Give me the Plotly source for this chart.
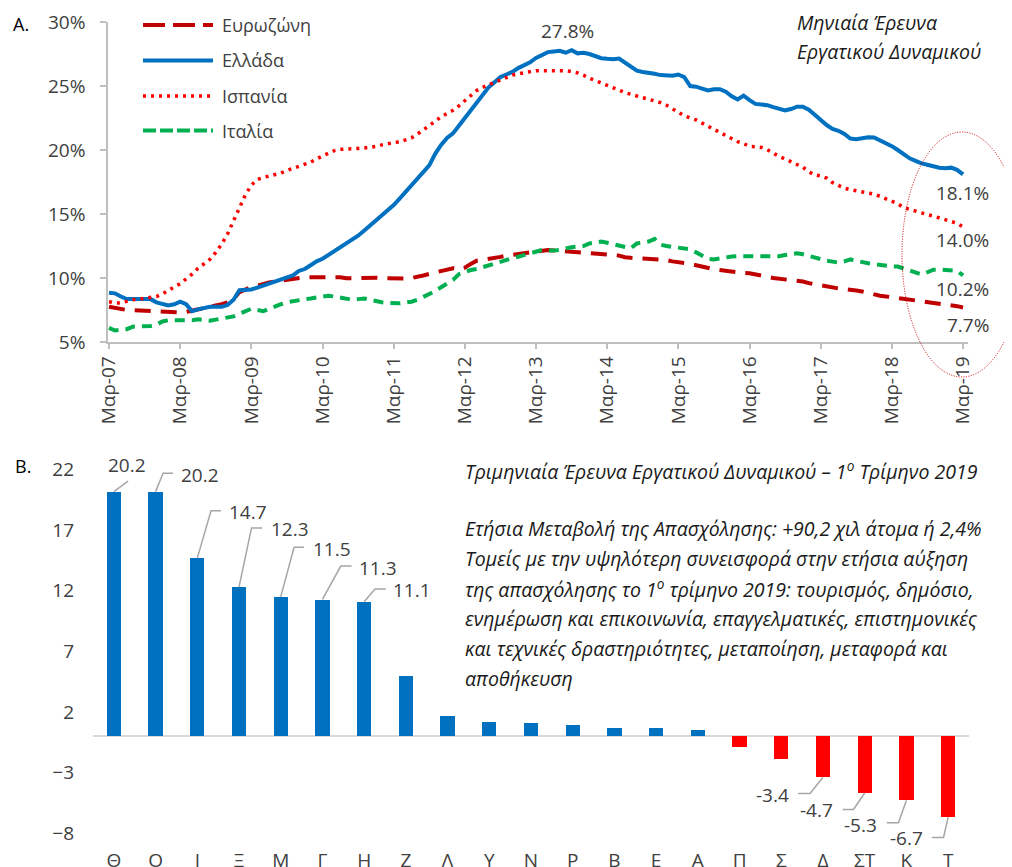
import plotly.graph_objects as go

# ---------------- DATA ----------------
# Monthly unemployment rates (%), Mar-2007 .. Mar-2019
eurozone = [7.75, 7.65, 7.55, 7.5, 7.48, 7.45, 7.45, 7.43, 7.4, 7.38, 7.37, 7.35,
            7.32, 7.35, 7.45, 7.55, 7.6, 7.7, 7.78, 7.95, 8.1, 8.35, 8.9, 9.1,
            9.3, 9.4, 9.55, 9.65, 9.72, 9.8, 9.85, 9.9, 9.97, 10.05, 10.05, 10.05,
            10.05, 10.05, 10.1, 10.05, 9.98, 10.0, 10.02, 10.02, 10.02, 10.02, 10.0, 9.97,
            9.94, 9.92, 9.95, 10.0, 10.08, 10.2, 10.32, 10.45, 10.58, 10.68, 10.76, 10.65,
            10.8, 11.1, 11.35, 11.42, 11.48, 11.55, 11.65, 11.75, 11.82, 11.9, 11.98, 12.05,
            12.1, 12.15, 12.19, 12.15, 12.1, 12.05, 12.02, 12.0, 11.97, 11.95, 11.93, 11.9,
            11.85, 11.8, 11.75, 11.62, 11.58, 11.55, 11.55, 11.54, 11.52, 11.48, 11.4, 11.3,
            11.25, 11.18, 11.1, 11.0, 10.88, 10.76, 10.68, 10.62, 10.55, 10.48, 10.42, 10.39,
            10.37, 10.3, 10.2, 10.1, 10.0, 9.95, 9.9, 9.86, 9.84, 9.72, 9.6, 9.5,
            9.4, 9.3, 9.24, 9.18, 9.13, 9.1, 9.03, 8.94, 8.83, 8.7, 8.62, 8.56,
            8.5, 8.42, 8.36, 8.3, 8.23, 8.18, 8.12, 8.08, 8.04, 7.96, 7.88, 7.8, 7.7]

greece = [8.85, 8.8, 8.55, 8.35, 8.35, 8.35, 8.35, 8.35, 8.1, 8.0, 7.85, 7.95,
          8.15, 7.95, 7.4, 7.55, 7.65, 7.75, 7.75, 7.75, 7.9, 8.3, 9.05, 9.05,
          9.1, 9.25, 9.4, 9.55, 9.7, 9.85, 9.97, 10.2, 10.55, 10.7, 11.0, 11.3,
          11.5, 11.8, 12.1, 12.4, 12.7, 12.95, 13.3, 13.7, 14.1, 14.5, 14.9, 15.2,
          15.7, 16.2, 16.7, 17.2, 17.7, 18.2, 18.8, 19.7, 20.4, 20.95, 21.3, 21.9,
          22.5, 23.1, 23.7, 24.2, 24.9, 25.3, 25.7, 25.9, 26.1, 26.4, 26.6, 26.85,
          27.2, 27.45, 27.65, 27.7, 27.75, 27.6, 27.8, 27.55, 27.6, 27.5, 27.3, 27.17,
          27.12, 27.09, 27.15, 26.85, 26.5, 26.2, 26.1, 26.05, 25.95, 25.85, 25.8, 25.8,
          25.9, 25.7, 25.0, 24.95, 24.8, 24.65, 24.75, 24.75, 24.55, 24.2, 23.95, 24.25,
          23.9, 23.6, 23.55, 23.5, 23.35, 23.25, 23.1, 23.2, 23.38, 23.38, 23.15, 22.75,
          22.3, 21.95, 21.65, 21.5, 21.25, 20.9, 20.85, 20.95, 21.0, 20.98, 20.75, 20.6,
          20.3, 20.0, 19.65, 19.35, 19.15, 18.95, 18.85, 18.7, 18.62, 18.57, 18.62, 18.45, 18.1]

spain = [8.15, 8.05, 8.05, 8.2, 8.3, 8.35, 8.4, 8.45, 8.55, 8.75, 9.05, 9.3,
         9.55, 9.9, 10.3, 10.75, 11.1, 11.45, 12.0, 12.65, 13.45, 14.45, 15.45, 16.5,
         17.25, 17.7, 17.85, 17.95, 18.05, 18.2, 18.4, 18.55, 18.7, 18.85, 19.05, 19.3,
         19.55, 19.75, 19.95, 20.05, 20.08, 20.08, 20.12, 20.16, 20.21, 20.28, 20.4, 20.5,
         20.58, 20.63, 20.8, 20.95, 21.25, 21.55, 21.9, 22.25, 22.6, 22.85, 23.1, 23.45,
         23.85, 24.3, 24.65, 24.9, 25.1, 25.3, 25.45, 25.65, 25.85, 25.95, 26.05, 26.15,
         26.2, 26.2, 26.2, 26.2, 26.22, 26.2, 26.13, 26.03, 25.85, 25.6, 25.43, 25.25,
         25.08, 24.93, 24.68, 24.48, 24.35, 24.25, 24.07, 23.93, 23.8, 23.7, 23.5, 23.2,
         22.95, 22.67, 22.5, 22.35, 22.1, 21.85, 21.62, 21.35, 21.1, 20.85, 20.65, 20.5,
         20.28, 20.26, 20.2, 20.02, 19.75, 19.5, 19.3, 19.1, 18.9, 18.65, 18.3, 18.05,
         17.97, 17.8, 17.45, 17.2, 17.02, 16.9, 16.82, 16.73, 16.65, 16.55, 16.38, 16.2,
         16.0, 15.8, 15.5, 15.35, 15.2, 15.08, 14.95, 14.84, 14.7, 14.5, 14.38, 14.27, 14.0]

italy = [6.1, 5.9, 5.95, 6.0, 6.2, 6.2, 6.2, 6.25, 6.35, 6.6, 6.7, 6.7,
         6.68, 6.66, 6.7, 6.77, 6.7, 6.66, 6.75, 6.85, 6.92, 7.0, 7.2, 7.4,
         7.6, 7.5, 7.4, 7.6, 7.8, 7.95, 8.1, 8.2, 8.28, 8.34, 8.4, 8.47,
         8.55, 8.62, 8.55, 8.45, 8.35, 8.3, 8.35, 8.4, 8.3, 8.18, 8.1, 8.06,
         8.02, 8.02, 8.08, 8.15, 8.3, 8.5, 8.75, 9.0, 9.3, 9.6, 9.85, 10.3,
         10.5, 10.62, 10.7, 10.85, 11.0, 11.12, 11.3, 11.4, 11.55, 11.66, 11.8, 11.98,
         12.1, 12.19, 12.16, 12.14, 12.2, 12.32, 12.4, 12.45, 12.5, 12.7, 12.78, 12.84,
         12.75, 12.66, 12.55, 12.45, 12.32, 12.7, 12.75, 12.85, 13.05, 12.6, 12.5, 12.43,
         12.38, 12.3, 12.24, 12.0, 11.75, 11.5, 11.45, 11.55, 11.65, 11.68, 11.7, 11.7,
         11.68, 11.66, 11.66, 11.66, 11.66, 11.7, 11.8, 11.88, 11.93, 11.85, 11.72, 11.6,
         11.45, 11.35, 11.28, 11.2, 11.3, 11.45, 11.35, 11.22, 11.15, 11.08, 11.0, 10.94,
         10.9, 10.89, 10.75, 10.6, 10.45, 10.28, 10.45, 10.65, 10.66, 10.64, 10.6, 10.55, 10.2]

series_names = ["Ευρωζώνη", "Ελλάδα", "Ισπανία", "Ιταλία"]
month_ticks = ["Μαρ-07", "Μαρ-08", "Μαρ-09", "Μαρ-10", "Μαρ-11", "Μαρ-12", "Μαρ-13",
               "Μαρ-14", "Μαρ-15", "Μαρ-16", "Μαρ-17", "Μαρ-18", "Μαρ-19"]
pct_ticks = [5, 10, 15, 20, 25, 30]

sectors = ["Θ", "Ο", "Ι", "Ξ", "Μ", "Γ", "Η", "Ζ", "Λ", "Υ", "Ν", "Ρ", "Β", "Ε", "Α",
           "Π", "Σ", "Δ", "ΣΤ", "Κ", "Τ"]
change = [20.2, 20.2, 14.7, 12.3, 11.5, 11.3, 11.1, 5.0, 1.7, 1.2, 1.1, 0.9, 0.7, 0.7, 0.5,
          -0.9, -1.9, -3.4, -4.7, -5.3, -6.7]
bar_ticks = [-8, -3, 2, 7, 12, 17, 22]

# ---------------- STYLE ----------------
FONT = "Open Sans"
GRAY_TXT = "#404040"
AXIS_GRAY = "#BFBFBF"
PAGE_W, PAGE_H = 1012, 867
OFF = 8  # default page margin of the browser
W, H = PAGE_W - OFF, PAGE_H - OFF


def px(x):
    return (x - OFF) / W


def py(y):
    return 1 - (y - OFF) / H


styles = [
    dict(color="#C00000", width=4, dash="16px,10px"),
    dict(color="#0070C0", width=4, dash="solid"),
    dict(color="#FF0000", width=3.5, dash="3px,5px"),
    dict(color="#00B050", width=4, dash="10px,7px"),
]
legend_dash = ["22px,8px", "solid", "3px,5px", "13px,4px"]

months = list(range(len(greece)))
all_series = [eurozone, greece, spain, italy]

fig = go.Figure()
for s, st in zip(all_series, styles):
    fig.add_trace(go.Scatter(x=months, y=s, mode="lines", line=st,
                             xaxis="x", yaxis="y", showlegend=False, hoverinfo="skip"))

bar_colors = ["#0070C0" if v >= 0 else "#FF0000" for v in change]
fig.add_trace(go.Bar(x=list(range(len(sectors))), y=change, marker_color=bar_colors,
                     marker_line_width=0, width=0.34, xaxis="x2", yaxis="y2",
                     showlegend=False))

annotations = []
shapes = []

TXT = 19     # tick / value label size
NOTE = 19.5  # italic notes

# Panel letters
annotations.append(dict(text="A.", x=px(11), y=py(24), xref="paper", yref="paper",
                        xanchor="left", yanchor="middle", showarrow=False,
                        font=dict(family=FONT, size=18, color="#000000")))
annotations.append(dict(text="B.", x=px(13), y=py(466), xref="paper", yref="paper",
                        xanchor="left", yanchor="middle", showarrow=False,
                        font=dict(family=FONT, size=18, color="#000000")))

# Custom legend
leg_y = [25, 60.5, 96, 130.5]
for name, st, dsh, ly in zip(series_names, styles, legend_dash, leg_y):
    shapes.append(dict(type="line", xref="paper", yref="paper", x0=px(143), x1=px(213),
                       y0=py(ly), y1=py(ly),
                       line=dict(color=st["color"], width=st["width"], dash=dsh)))
    annotations.append(dict(text=name, x=px(220), y=py(ly), xref="paper", yref="paper",
                            xanchor="left", yanchor="middle", showarrow=False,
                            font=dict(family=FONT, size=18, color=GRAY_TXT)))

# Peak label for Greece
gmax = max(greece)
imax = greece.index(gmax)
annotations.append(dict(text=f"{gmax:.1f}%", x=imax, y=gmax, xref="x", yref="y",
                        showarrow=False, yshift=19, xshift=-4,
                        font=dict(family=FONT, size=TXT, color=GRAY_TXT)))

# End labels
end_shift = [-18, -19, -13, -14]
for s, ys in zip(all_series, end_shift):
    annotations.append(dict(text=f"{s[-1]:.1f}%", x=months[-1], y=s[-1], xref="x", yref="y",
                            xanchor="right", yanchor="middle", showarrow=False,
                            xshift=28, yshift=ys,
                            font=dict(family=FONT, size=TXT, color=GRAY_TXT)))

# Top-right italic note
for txt, yy in [("Μηνιαία Έρευνα", 23), ("Εργατικού Δυναμικού", 52)]:
    annotations.append(dict(text=f"<i>{txt}</i>", x=px(795), y=py(yy), xref="paper",
                            yref="paper", xanchor="left", yanchor="middle", showarrow=False,
                            font=dict(family=FONT, size=NOTE, color="#1a1a1a")))

# Ellipse highlight
shapes.append(dict(type="circle", xref="paper", yref="paper", x0=px(902), x1=px(1022),
                   y0=py(377), y1=py(132),
                   line=dict(color="#D00000", width=1, dash="1px,1.5px")))

# Bottom text block
note_lines = [
    ("Τριμηνιαία Έρευνα Εργατικού Δυναμικού – 1<sup>ο</sup> Τρίμηνο 2019", 470),
    ("Ετήσια Μεταβολή της Απασχόλησης: +90,2 χιλ άτομα ή 2,4%", 528),
    ("Τομείς με την υψηλότερη συνεισφορά στην ετήσια αύξηση", 558),
    ("της απασχόλησης το 1<sup>ο</sup> τρίμηνο 2019: τουρισμός, δημόσιο,", 588),
    ("ενημέρωση και επικοινωνία, επαγγελματικές, επιστημονικές", 618),
    ("και τεχνικές δραστηριότητες, μεταποίηση, μεταφορά και", 648),
    ("αποθήκευση", 678),
]
for txt, yy in note_lines:
    annotations.append(dict(text=f"<i>{txt}</i>", x=px(463), y=py(yy), xref="paper",
                            yref="paper", xanchor="left", yanchor="middle", showarrow=False,
                            font=dict(family=FONT, size=NOTE, color="#1a1a1a")))

# Bar data labels with leader lines (label position and elbow points in axis units)
label_layout = {
    0: ((0.31, 22.40), [(0.34, 21.07)]),
    1: ((2.07, 21.53), [(1.18, 21.71), (1.42, 21.71)]),
    2: ((3.22, 18.54), [(2.33, 18.62), (2.57, 18.62)]),
    3: ((4.22, 17.08), [(3.30, 17.20), (3.56, 17.20)]),
    4: ((5.22, 15.45), [(4.32, 15.60), (4.56, 15.60)]),
    5: ((6.34, 13.91), [(5.44, 14.05), (5.70, 14.05)]),
    6: ((7.15, 12.07), [(6.26, 12.15), (6.52, 12.15)]),
    17: ((15.79, -4.88), [(16.69, -4.74), (16.40, -4.74)]),
    18: ((16.85, -6.12), [(17.73, -6.06), (17.47, -6.06)]),
    19: ((17.91, -7.36), [(18.81, -7.17), (18.53, -7.17)]),
    20: ((18.99, -8.43), [(19.89, -8.37), (19.61, -8.37)]),
}
for i, ((lx, ly), pts) in label_layout.items():
    v = change[i]
    path = f"M {i},{v}" + "".join(f" L {x},{y}" for x, y in pts)
    shapes.append(dict(type="path", xref="x2", yref="y2", path=path,
                       line=dict(color="#A6A6A6", width=1.5)))
    annotations.append(dict(text=f"{v:.1f}", x=lx, y=ly, xref="x2", yref="y2",
                            showarrow=False, xanchor="center", yanchor="middle",
                            font=dict(family=FONT, size=TXT, color=GRAY_TXT)))

tick_font = dict(family=FONT, size=TXT, color=GRAY_TXT)

fig.update_layout(
    width=W, height=H,
    margin=dict(l=0, r=0, t=0, b=0, autoexpand=False),
    paper_bgcolor="white", plot_bgcolor="white",
    showlegend=False,
    font=dict(family=FONT),
    bargap=0,
    xaxis=dict(domain=[px(108), px(968)], range=[-0.17, 144.84], anchor="y",
               automargin=False,
               tickmode="array", tickvals=[12 * k for k in range(len(month_ticks))],
               ticktext=month_ticks, tickangle=-90, tickfont=tick_font,
               showline=True, linecolor=AXIS_GRAY, linewidth=1.5,
               ticks="outside", ticklen=5, tickcolor=AXIS_GRAY, tickwidth=1.5,
               showgrid=False, zeroline=False),
    yaxis=dict(domain=[py(342), py(22)], range=[5, 30], anchor="x",
               automargin=False,
               tickmode="array", tickvals=pct_ticks,
               ticktext=[f"{t}%" for t in pct_ticks], tickfont=tick_font,
               showline=True, linecolor=AXIS_GRAY, linewidth=1.5,
               ticks="outside", ticklen=6, tickcolor=AXIS_GRAY, tickwidth=1.5,
               ticklabelstandoff=11, showgrid=False, zeroline=False),
    xaxis2=dict(domain=[px(93), px(969)], range=[-0.5, len(sectors) - 0.5], anchor="y2",
                automargin=False,
                tickmode="array", tickvals=list(range(len(sectors))), ticktext=sectors,
                tickfont=tick_font, showline=False, ticks="", showgrid=False,
                zeroline=False, ticklabelstandoff=2),
    yaxis2=dict(domain=[py(845), py(463.75)], range=[-9, 22.5], anchor="x2",
                automargin=False,
                tickmode="array", tickvals=bar_ticks, tickfont=tick_font,
                showline=False, ticks="", showgrid=False, ticklabelstandoff=18,
                zeroline=True, zerolinecolor="#D9D9D9", zerolinewidth=2),
    annotations=annotations,
    shapes=shapes,
)

fig.write_html("out.html")
